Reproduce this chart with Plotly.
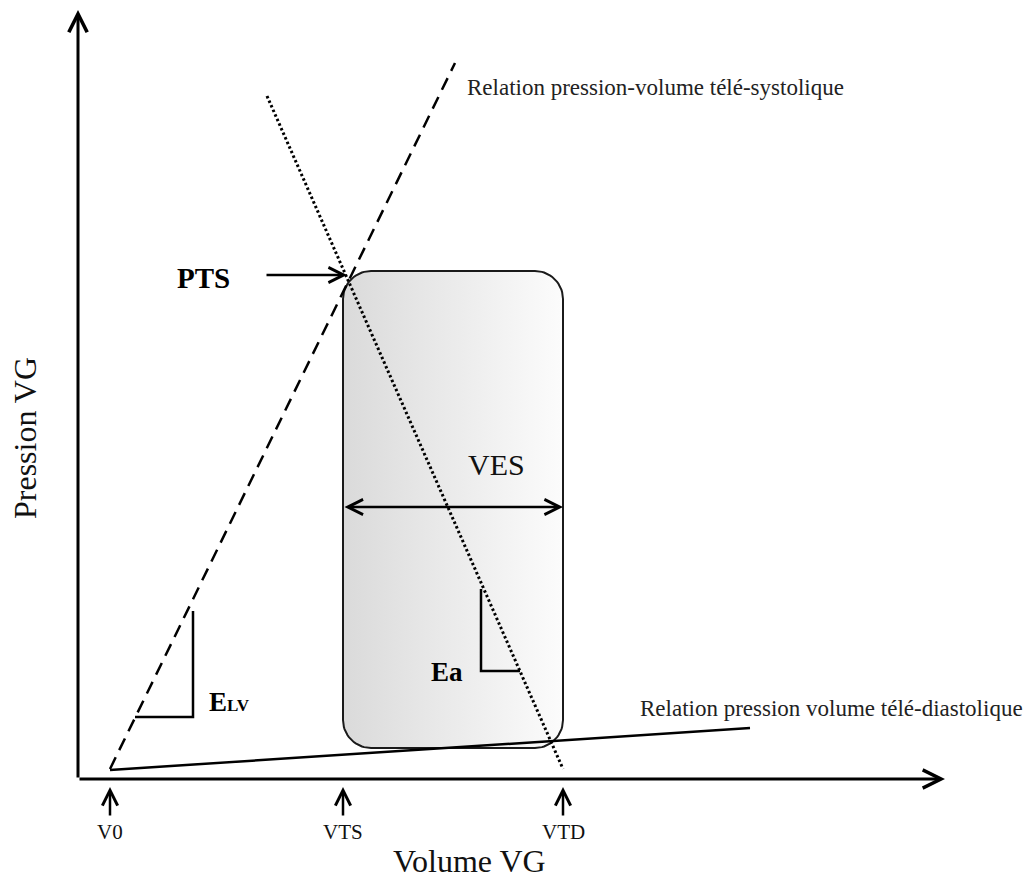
import numpy as np
import plotly.graph_objects as go

# ---- data (volume / pressure units of the diagram) ----
VOL_TICKS = [32, 265, 485]
VOL_TICK_LABELS = ["V0", "VTS", "VTD"]

ESPVR_V = [32, 377]          # end-systolic pressure-volume relation (dashed)
ESPVR_P = [10, 716]
EA_V = [189, 485]            # arterial elastance line (dotted)
EA_P = [683, 10]
EDPVR_V = [32, 672]          # end-diastolic pressure-volume relation (solid)
EDPVR_P = [9, 51]

LOOP_VOL = [265, 485]        # VTS .. VTD
LOOP_PRESS = [31, 508]       # min .. max pressure of the loop
LOOP_RADIUS = 28
PTS_VALUE = 504
VES_LEVEL = 272

ELV_TRI_V = [57, 115, 115]
ELV_TRI_P = [62, 62, 168]
EA_TRI_V = [403, 403, 442]
EA_TRI_P = [190, 108, 108]

AX_V_MAX = 867
AX_P_MAX = 769

FONT = "Liberation Serif, Times New Roman, serif"

fig = go.Figure()

# rounded rectangle (PV loop) with horizontal gradient
v0, v1 = LOOP_VOL
p0, p1 = LOOP_PRESS
r = LOOP_RADIUS
def arc(cx, cy, a0, a1):
    t = np.linspace(np.radians(a0), np.radians(a1), 20)
    return list(cx + r * np.cos(t)), list(cy + r * np.sin(t))
xs, ys = [], []
for cx, cy, a0, a1 in [(v1 - r, p1 - r, 0, 90), (v0 + r, p1 - r, 90, 180),
                       (v0 + r, p0 + r, 180, 270), (v1 - r, p0 + r, 270, 360)]:
    ax_, ay_ = arc(cx, cy, a0, a1)
    xs += ax_; ys += ay_
xs.append(xs[0]); ys.append(ys[0])
fig.add_trace(go.Scatter(x=xs, y=ys, mode="lines", fill="toself",
                         fillgradient=dict(type="horizontal",
                                           colorscale=[[0, "#dadada"], [1, "#fcfcfc"]]),
                         line=dict(color="#1a1a1a", width=2), hoverinfo="skip"))

# relations
fig.add_trace(go.Scatter(x=EDPVR_V, y=EDPVR_P, mode="lines",
                         line=dict(color="black", width=2.5), hoverinfo="skip"))
fig.add_trace(go.Scatter(x=ESPVR_V, y=ESPVR_P, mode="lines",
                         line=dict(color="black", width=2.5, dash="13px,8px"), hoverinfo="skip"))
fig.add_trace(go.Scatter(x=EA_V, y=EA_P, mode="lines",
                         line=dict(color="black", width=3, dash="2.5px,2.5px"), hoverinfo="skip"))
fig.add_trace(go.Scatter(x=ELV_TRI_V, y=ELV_TRI_P, mode="lines",
                         line=dict(color="black", width=2.5), hoverinfo="skip"))
fig.add_trace(go.Scatter(x=EA_TRI_V, y=EA_TRI_P, mode="lines",
                         line=dict(color="black", width=2.5), hoverinfo="skip"))

def arrow(x, y, ax, ay, width=2.5, side="end", size=1.2):
    fig.add_annotation(x=x, y=y, ax=ax, ay=ay, xref="x", yref="y", axref="x", ayref="y",
                       text="", showarrow=True, arrowhead=5, arrowsize=size,
                       arrowwidth=width, arrowcolor="black", arrowside=side,
                       startarrowhead=5, startarrowsize=size, standoff=0, startstandoff=0)

# axes
arrow(0, AX_P_MAX, 0, 0, width=3)
arrow(AX_V_MAX, 0, 0, 0, width=3)
# tick arrows
for v in VOL_TICKS:
    arrow(v, -8, v, -38, width=2.5)
# PTS arrow
arrow(LOOP_VOL[0] + 4, PTS_VALUE, 187, PTS_VALUE, width=2.5)
# VES double arrow
arrow(LOOP_VOL[1], VES_LEVEL, LOOP_VOL[0], VES_LEVEL, width=2.5, side="end+start")

def text(x, y, s, size, bold=False, xanchor="center", color="black", angle=0):
    fig.add_annotation(x=x, y=y, xref="x", yref="y", text=f"<b>{s}</b>" if bold else s,
                       showarrow=False, xanchor=xanchor, yanchor="middle", textangle=angle,
                       font=dict(family=FONT, size=size, color=color))

for v, lab in zip(VOL_TICKS, VOL_TICK_LABELS):
    text(v, -53, lab, 21, color="#111")
text(391, -82, "Volume VG", 32, color="#111")
text(-53, 341, "Pression VG", 32, color="#111", angle=-90)
text(387, 692, "Relation pression-volume télé-systolique", 23, xanchor="left", color="#222")
text(560, 71, "Relation pression volume télé-diastolique", 23, xanchor="left", color="#222")
text(125, 501, "PTS", 29, bold=True)
text(418, 315, "VES", 30, color="#111")
text(369, 107, "Ea", 27, bold=True)
text(129, 77, "E<span style='font-size:17px'>LV</span>", 27, bold=True, xanchor="left")

# page body has an 8px default margin: size the figure to the remaining window
fig.update_layout(width=1026, height=879, margin=dict(l=0, r=0, t=0, b=0),
                  paper_bgcolor="white", plot_bgcolor="white", showlegend=False,
                  xaxis=dict(range=[-70, 956], visible=False, fixedrange=True),
                  yaxis=dict(range=[-108, 771], visible=False, fixedrange=True))
fig.write_html("out.html")
